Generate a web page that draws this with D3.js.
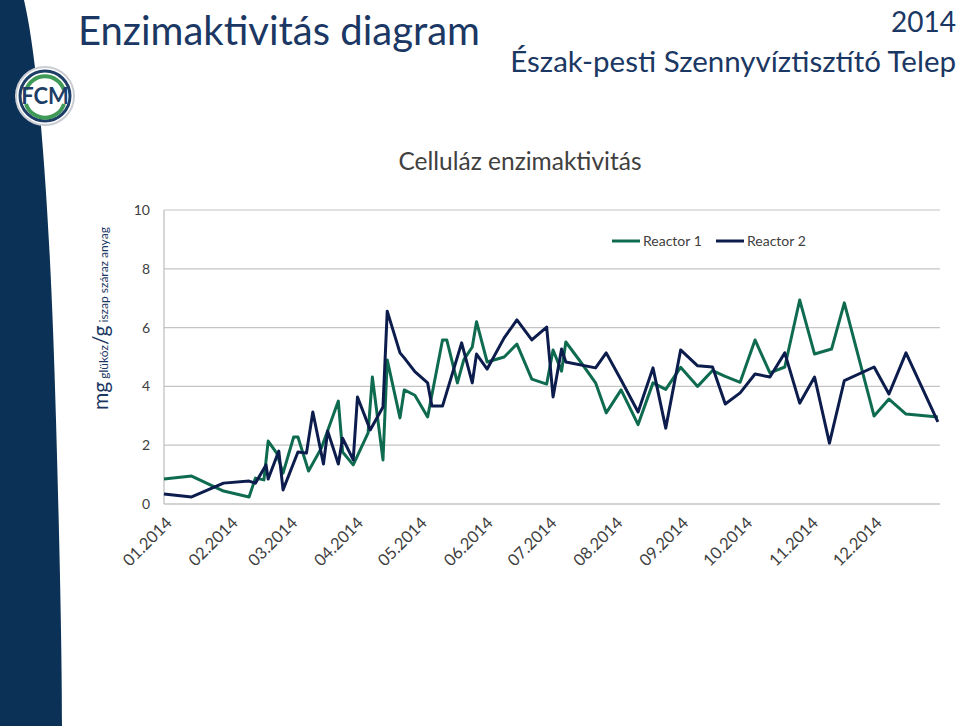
<!DOCTYPE html>
<html>
<head>
<meta charset="utf-8">
<script src="https://cdn.jsdelivr.net/npm/d3@7/dist/d3.min.js"></script>
<style>
  body { margin: 0; background: #fff; }
  text { font-family: Lato, "Open Sans", sans-serif; }
</style>
</head>
<body>
<div id="chart"></div>
<script>
// reactor 1 (green) samples
var dates1 = ["2014-01-01","2014-01-14","2014-01-29","2014-02-10","2014-02-13","2014-02-17","2014-02-19","2014-02-23","2014-02-26",
  "2014-03-03","2014-03-05","2014-03-10","2014-03-16","2014-03-24","2014-03-26","2014-03-31","2014-04-07","2014-04-09","2014-04-14",
  "2014-04-16","2014-04-22","2014-04-24","2014-04-29","2014-05-05","2014-05-12","2014-05-14","2014-05-19","2014-05-22","2014-05-26",
  "2014-05-28","2014-06-02","2014-06-10","2014-06-16","2014-06-23","2014-06-30","2014-07-03","2014-07-07","2014-07-09","2014-07-16",
  "2014-07-23","2014-07-28","2014-08-04","2014-08-12","2014-08-19","2014-08-25","2014-09-01","2014-09-09","2014-09-16","2014-09-22",
  "2014-09-29","2014-10-06","2014-10-13","2014-10-20","2014-10-27","2014-11-03","2014-11-11","2014-11-17","2014-12-01","2014-12-08",
  "2014-12-16","2014-12-31"];
var reactor1 = [0.85,0.95,0.44,0.24,0.88,0.82,2.14,1.73,1.05,
  2.28,2.28,1.12,1.9,3.5,1.77,1.33,2.42,4.32,1.5,
  4.9,2.93,3.88,3.7,2.96,5.58,5.58,4.12,4.9,5.34,
  6.2,4.83,5.0,5.44,4.25,4.08,5.24,4.52,5.51,4.83,
  4.12,3.1,3.88,2.7,4.12,3.9,4.65,4.0,4.54,4.34,
  4.14,5.58,4.46,4.66,6.94,5.1,5.27,6.84,2.99,3.57,
  3.06,2.96];

// reactor 2 (navy) samples
var dates2 = ["2014-01-01","2014-01-14","2014-01-29","2014-02-10","2014-02-13","2014-02-18","2014-02-19","2014-02-24","2014-02-26",
  "2014-03-05","2014-03-09","2014-03-12","2014-03-17","2014-03-19","2014-03-24","2014-03-26","2014-03-31","2014-04-02","2014-04-08",
  "2014-04-14","2014-04-16","2014-04-22","2014-04-24","2014-04-29","2014-05-05","2014-05-07","2014-05-12","2014-05-21","2014-05-26",
  "2014-05-28","2014-06-02","2014-06-10","2014-06-16","2014-06-23","2014-06-30","2014-07-03","2014-07-07","2014-07-09","2014-07-23",
  "2014-07-28","2014-08-04","2014-08-12","2014-08-19","2014-08-25","2014-09-01","2014-09-09","2014-09-16","2014-09-22","2014-09-29",
  "2014-10-06","2014-10-13","2014-10-20","2014-10-27","2014-11-03","2014-11-10","2014-11-17","2014-12-01","2014-12-08","2014-12-16",
  "2014-12-31"];
var reactor2 = [0.34,0.24,0.71,0.78,0.71,1.33,0.85,1.8,0.48,
  1.77,1.73,3.13,1.36,2.48,1.36,2.24,1.5,3.64,2.52,
  3.3,6.56,5.14,4.97,4.5,4.12,3.33,3.33,5.48,4.12,
  5.1,4.59,5.65,6.26,5.58,6.02,3.64,5.27,4.83,4.63,
  5.14,4.22,3.13,4.63,2.58,5.24,4.7,4.66,3.4,3.78,
  4.42,4.32,5.14,3.43,4.32,2.07,4.2,4.66,3.74,5.14,
  2.79];

var yTicks = [0, 2, 4, 6, 8, 10];
var monthLabels = ["01.2014","02.2014","03.2014","04.2014","05.2014","06.2014","07.2014","08.2014","09.2014","10.2014","11.2014","12.2014"];
var seriesNames = ["Reactor 1", "Reactor 2"];
var seriesColors = ["#0f6b4f", "#0c1d4d"];

var W = 960, H = 726;
var parse = d3.timeParse("%Y-%m-%d");

var svg = d3.select("#chart").append("svg")
    .attr("width", W).attr("height", H);

// dark band on the left
svg.append("path")
    .attr("d", "M0,0 L24,0 C38,60 50,200 56,420 C60,560 62,660 62,726 L0,726 Z")
    .attr("fill", "#0b3156");

// logo
var logo = svg.append("g").attr("transform", "translate(45,96)");
logo.append("circle").attr("r", 29).attr("fill", "#fff").attr("stroke", "#c9ccd3").attr("stroke-width", 2);
logo.append("circle").attr("r", 25).attr("fill", "none").attr("stroke", "#1d3e66").attr("stroke-width", 3);
logo.append("path").attr("d", "M-19,-6 A20,20 0 0 1 19,-6").attr("fill", "none").attr("stroke", "#3f9a57").attr("stroke-width", 4);
logo.append("path").attr("d", "M-19,8 A20,20 0 0 0 19,8").attr("fill", "none").attr("stroke", "#3f9a57").attr("stroke-width", 4);
logo.append("text").attr("text-anchor", "middle").attr("y", 8).attr("font-size", 22).attr("font-weight", "bold")
    .attr("fill", "#1d3e66").text("FCM");

// header
svg.append("text").attr("x", 78).attr("y", 45).attr("font-size", 40).attr("fill", "#1b3763")
    .text("Enzimaktivitás diagram");
svg.append("text").attr("x", 956).attr("y", 32).attr("text-anchor", "end").attr("font-size", 28).attr("fill", "#1b3763")
    .text("2014");
svg.append("text").attr("x", 956).attr("y", 72).attr("text-anchor", "end").attr("font-size", 29.5).attr("fill", "#1b3763")
    .text("Észak-pesti Szennyvíztisztító Telep");

svg.append("text").attr("x", 520).attr("y", 170).attr("text-anchor", "middle").attr("font-size", 24.5).attr("fill", "#404040")
    .text("Celluláz enzimaktivitás");

// scales
var x = d3.scaleTime()
    .domain([parse("2014-01-01"), parse("2015-01-01")])
    .range([164, 940]);
var y = d3.scaleLinear().domain([0, 10]).range([504, 210]);

// gridlines
svg.append("g").selectAll("line")
    .data(yTicks).enter().append("line")
    .attr("x1", 164).attr("x2", 940)
    .attr("y1", function(d){ return y(d); }).attr("y2", function(d){ return y(d); })
    .attr("stroke", function(d){ return d == 0 ? "#a8a8a8" : "#c4c4c4"; })
    .attr("stroke-width", 1.2);

svg.append("line").attr("x1", 164).attr("x2", 164).attr("y1", 210).attr("y2", 504)
    .attr("stroke", "#bcbcbc").attr("stroke-width", 1.2);

// y tick labels
svg.append("g").selectAll("text")
    .data(yTicks).enter().append("text")
    .attr("x", 150).attr("y", function(d){ return y(d) + 5; })
    .attr("text-anchor", "end").attr("font-size", 14).attr("fill", "#404040")
    .text(function(d){ return d; });

// x tick labels
var months = d3.timeMonth.range(parse("2014-01-01"), parse("2015-01-01"));
svg.append("g").selectAll("text")
    .data(months).enter().append("text")
    .attr("transform", function(d){ return "translate(" + (x(d) + 9) + ",524) rotate(-45)"; })
    .attr("text-anchor", "end").attr("font-size", 16.5).attr("fill", "#404040")
    .text(function(d, i){ return monthLabels[i]; });

// y axis title
var yt = svg.append("text").attr("transform", "translate(108,410) rotate(-90)").attr("fill", "#1b3763");
yt.append("tspan").attr("font-size", 21).text("mg");
yt.append("tspan").attr("font-size", 12).text(" glükóz");
yt.append("tspan").attr("font-size", 21).text("/g");
yt.append("tspan").attr("font-size", 12).text(" iszap száraz anyag");

// lines
var line = d3.line()
    .x(function(d){ return x(d.date); })
    .y(function(d){ return y(d.value); });

var series = [
    dates1.map(function(d, i){ return {date: parse(d), value: reactor1[i]}; }),
    dates2.map(function(d, i){ return {date: parse(d), value: reactor2[i]}; })
];

svg.append("g").selectAll("path")
    .data(series).enter().append("path")
    .attr("d", line)
    .attr("fill", "none")
    .attr("stroke", function(d, i){ return seriesColors[i]; })
    .attr("stroke-width", 3)
    .attr("stroke-linejoin", "round");

// legend
var legend = svg.append("g").selectAll("g")
    .data(seriesNames).enter().append("g")
    .attr("transform", function(d, i){ return "translate(" + (612 + i * 104) + ",241)"; });
legend.append("line").attr("x1", 0).attr("x2", 28)
    .attr("stroke", function(d, i){ return seriesColors[i]; }).attr("stroke-width", 3);
legend.append("text").attr("x", 31).attr("y", 5).attr("font-size", 14).attr("fill", "#404040")
    .text(function(d){ return d; });
</script>
</body>
</html>
